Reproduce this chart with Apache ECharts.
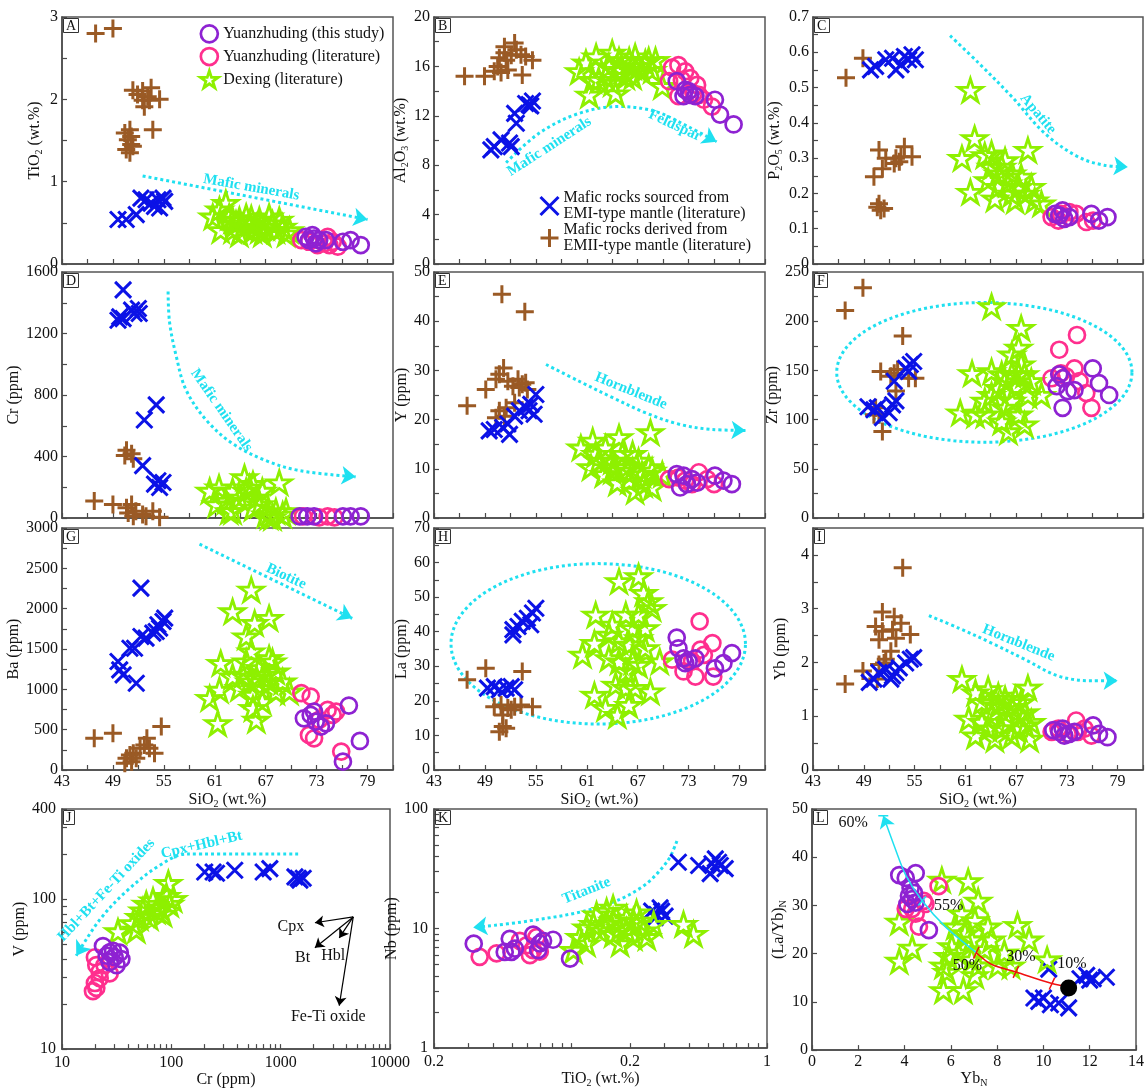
<!DOCTYPE html>
<html><head><meta charset="utf-8">
<script src="https://cdn.jsdelivr.net/npm/echarts@6/dist/echarts.min.js"></script>
<style>html,body{margin:0;padding:0;background:#fff}#c{width:1147px;height:1089px}</style>
</head><body><div id="c"></div><script>
// ---------------- DATA ----------------
// groups: emii = brown +, emi = blue x, dex = Dexing stars, lit = Yuanzhuding literature (pink), this = this study (purple)
const A_emii=[[46.96,2.80],[49.0,2.86],[51.35,2.11],[52.5,2.10],[53.5,2.14],[53.1,2.03],[52.5,1.99],[54.5,2.0],[52.7,1.91],[53.3,1.99],[51.9,2.06],[53.7,1.63],[50.4,1.59],[51.0,1.63],[50.76,1.51],[51.15,1.45],[50.57,1.39],[51.0,1.35],[51.35,1.43],[51.15,1.55]];
const A_emi=[[49.6,0.54],[50.57,0.54],[51.75,0.6],[52.3,0.80],[52.9,0.78],[53.5,0.74],[54.3,0.78],[54.9,0.80],[54.5,0.68],[55.1,0.76],[53.9,0.70]];
const A_dex=[[60.76,0.575],[62.3,0.74],[61.7,0.41],[63.1,0.535],[63.9,0.535],[65.1,0.49],[66.25,0.535],[67.0,0.45],[67.8,0.49],[69.0,0.45],[69.8,0.41],[65.5,0.41],[63.1,0.41],[64.7,0.575],[67.4,0.575],[61.55,0.66],[64.3,0.45],[65.9,0.45],[68.6,0.535],[69.4,0.37],[66.6,0.37],[63.9,0.37],[62.7,0.575],[68.2,0.41],[65.3,0.555],[63.5,0.49],[66.25,0.41]];
const A_lit=[[71.2,0.29],[72.1,0.27],[74.3,0.33],[74.5,0.23],[75.5,0.21],[74.9,0.27],[73.1,0.23],[73.9,0.25]];
const A_this=[[71.7,0.33],[72.5,0.35],[73.3,0.29],[72.9,0.25],[72.1,0.29],[74.1,0.29],[76.1,0.27],[77.0,0.29],[78.2,0.23],[72.7,0.31]];

const B_emii=[[46.6,15.2],[48.95,15.2],[50.1,15.6],[50.5,16.0],[50.7,16.7],[51.3,17.1],[51.3,17.6],[52.5,17.9],[52.1,16.9],[52.7,17.35],[53.25,16.95],[53.8,16.8],[54.6,16.5],[53.4,15.3],[50.9,15.5],[51.7,15.7],[51.5,16.5]];
const B_emi=[[49.7,9.24],[50.1,9.5],[50.9,10.05],[51.9,9.8],[52.1,9.5],[52.5,12.2],[52.7,11.4],[53.8,13.0],[54.2,12.9],[54.6,13.2],[54.4,12.8]];
const B_dex=[[60.1,15.6],[61.3,13.7],[62.1,16.8],[62.4,14.9],[63.6,16.0],[64.4,13.8],[64.0,17.1],[65.2,15.7],[66.0,16.5],[66.4,15.2],[67.1,16.0],[67.9,16.3],[68.7,15.7],[69.9,14.4],[63.2,15.2],[64.8,16.5],[65.6,15.2],[66.7,16.8],[67.5,15.6],[68.3,16.5],[60.9,16.3],[61.7,14.9],[64.0,14.65],[69.1,16.5],[66.4,16.0],[64.6,15.6]];
const B_lit=[[71.05,15.9],[71.8,16.1],[72.6,15.6],[73.2,15.05],[74.0,14.5],[74.2,13.7],[74.8,13.3],[75.75,12.75],[70.7,14.8],[72.2,14.9],[73.6,13.8],[71.8,13.6]];
const B_this=[[71.6,14.8],[72.6,14.1],[73.2,13.7],[72.4,13.6],[73.8,13.6],[76.1,13.3],[76.7,12.1],[78.3,11.3],[73.0,14.0]];

const C_emii=[[46.9,0.528],[48.9,0.583],[50.8,0.323],[50.2,0.247],[51.2,0.27],[51.6,0.30],[52.8,0.30],[53.4,0.304],[53.8,0.332],[54.7,0.304],[52.6,0.285],[53.2,0.29],[50.8,0.171],[51.0,0.152],[51.4,0.157],[50.6,0.161]];
const C_emi=[[49.8,0.55],[50.4,0.56],[51.6,0.579],[52.4,0.583],[52.8,0.55],[53.8,0.588],[54.3,0.579],[54.7,0.593],[55.1,0.579],[53.4,0.565]];
const C_dex=[[61.6,0.493],[62.1,0.356],[60.6,0.30],[68.4,0.323],[61.6,0.204],[63.3,0.308],[64.1,0.275],[64.9,0.256],[65.7,0.294],[66.5,0.256],[67.3,0.218],[68.1,0.199],[69.2,0.18],[70.0,0.171],[64.9,0.218],[64.5,0.185],[66.0,0.228],[66.9,0.18],[63.7,0.237],[65.3,0.275],[67.6,0.247],[66.5,0.199],[64.1,0.313],[68.8,0.218]];
const C_lit=[[71.2,0.133],[72.3,0.142],[73.3,0.147],[74.1,0.142],[75.3,0.119],[76.1,0.123],[72.0,0.123]];
const C_this=[[71.6,0.142],[72.1,0.138],[72.7,0.128],[73.3,0.133],[75.9,0.142],[76.8,0.123],[77.8,0.133],[72.5,0.152]];

const D_emii=[[50.6,440],[51.2,418],[51.4,385],[50.4,407],[46.8,110],[49.0,88],[50.6,66],[51.2,88],[51.7,44],[52.5,22],[52.9,11],[53.7,44],[54.5,5],[51.4,11],[50.8,33]];
const D_emi=[[50.2,1484],[49.8,1308],[49.6,1286],[50.2,1297],[51.2,1352],[52.0,1363],[52.1,1330],[51.5,1330],[52.7,637],[54.1,736],[52.5,341],[53.9,220],[54.5,198],[54.3,242],[54.9,231]];
const D_dex=[[60.4,176],[61.5,198],[62.3,110],[63.1,176],[64.5,264],[65.5,220],[66.6,176],[68.6,231],[63.9,132],[61.2,88],[63.1,44],[65.5,66],[67.0,22],[67.8,5],[69.0,22],[64.7,176],[66.3,88],[68.2,44],[65.9,132],[62.7,44],[65.1,198],[67.4,11],[69.4,44]];
const D_lit=[[71.4,11],[74.3,11],[75.1,4],[73.3,4]];
const D_this=[[71.0,11],[71.9,11],[72.7,11],[76.1,11],[77.0,11],[78.2,11]];

const E_emii=[[51.0,45.5],[53.7,41.9],[46.9,22.8],[49.1,26.1],[50.3,28.2],[51.2,30.5],[50.7,29.2],[51.7,27.8],[52.3,26.8],[52.9,28.2],[53.4,27.2],[53.05,26.5],[54.0,26.1],[53.8,27.5],[50.7,21.8],[51.3,20.7],[50.3,20.4],[52.5,23.4],[51.5,22.4]];
const E_emi=[[49.5,17.7],[50.1,18.0],[51.1,18.4],[51.9,17.0],[51.7,19.1],[52.5,20.7],[53.05,21.8],[53.8,22.4],[54.4,23.1],[55.0,25.1],[54.8,21.1],[54.2,21.8]];
const E_dex=[[60.3,14.3],[61.7,15.7],[64.8,16.4],[68.5,17.4],[62.05,13.0],[61.5,10.3],[63.0,8.9],[64.6,7.2],[66.7,5.5],[68.7,6.2],[64.0,11.6],[65.6,10.3],[66.4,9.6],[67.5,8.9],[68.7,9.6],[69.9,8.9],[67.1,11.6],[65.2,13.0],[63.2,14.3],[66.4,13.0],[64.0,9.6],[68.3,10.3],[66.0,7.6],[64.4,10.3],[62.4,11.6],[67.7,6.9]];
const E_lit=[[70.7,7.9],[71.8,8.2],[74.2,9.3],[75.2,7.9],[76.0,6.9],[73.4,6.9],[72.6,7.6]];
const E_this=[[71.6,8.9],[72.4,8.6],[72.8,6.9],[73.4,7.9],[74.0,7.2],[76.1,8.6],[77.1,7.6],[78.1,6.9],[72.0,6.2]];

const F_emii=[[48.9,234],[46.8,211],[53.6,185],[51.0,149],[52.2,144],[53.0,151],[52.8,129],[54.3,142],[55.1,142],[50.4,112],[50.2,105],[51.2,88],[50.8,105],[52.6,147]];
const F_emi=[[49.5,113],[50.2,110],[50.6,112],[51.2,102],[52.0,107],[52.4,115],[52.8,119],[52.6,139],[53.95,152],[54.5,156],[54.9,159],[54.3,149]];
const F_dex=[[64.1,215],[67.6,193],[61.8,147],[60.4,107],[62.2,105],[63.3,119],[64.1,149],[64.9,132],[65.7,112],[66.1,88],[66.5,166],[67.3,173],[67.6,156],[68.0,146],[66.9,132],[66.5,119],[67.3,105],[68.0,95],[68.8,139],[70.0,125],[65.3,146],[64.1,125],[65.7,139],[65.3,98],[67.3,146],[63.3,105],[68.4,125],[66.5,146]];
const F_lit=[[72.1,171],[74.2,186],[71.2,142],[72.3,147],[73.9,152],[74.5,139],[75.3,127],[75.9,112],[72.9,144]];
const F_this=[[72.1,146],[71.8,134],[73.1,129],[72.5,112],[73.9,130],[76.06,152],[76.8,137],[78.0,125],[72.5,142]];

const G_emii=[[46.8,393],[49.0,455],[54.7,538],[50.6,145],[51.2,103],[51.4,207],[52.2,269],[52.7,310],[53.3,269],[53.9,207],[53.0,393],[51.75,145],[51.0,186],[50.4,83]];
const G_emi=[[52.3,2255],[51.75,1076],[49.6,1345],[49.8,1241],[50.2,1179],[51.0,1510],[51.55,1510],[52.3,1655],[52.9,1635],[53.7,1697],[54.3,1800],[54.9,1841],[54.5,1759],[54.1,1717],[55.1,1883]];
const G_dex=[[65.3,2234],[63.1,1966],[67.4,1883],[65.7,1821],[64.7,1655],[65.3,1469],[61.7,1324],[60.4,890],[61.35,579],[65.9,621],[61.55,993],[63.1,1159],[64.3,1179],[63.9,1014],[65.5,931],[66.6,1014],[67.4,1386],[68.2,1221],[69.0,1097],[67.4,1097],[66.25,1262],[65.1,1097],[65.5,766],[66.6,848],[68.2,972],[69.8,972],[67.8,1345],[64.7,1345],[67.0,1179],[65.9,1138]];
const G_lit=[[71.2,952],[72.3,910],[74.3,745],[75.3,724],[72.1,434],[72.7,393],[75.9,228],[73.3,621],[74.9,683]];
const G_this=[[71.5,641],[72.3,683],[72.7,724],[72.9,600],[73.5,538],[74.1,579],[76.8,799],[78.1,360],[76.1,103]];

const H_emii=[[46.9,26.1],[49.1,29.4],[53.4,28.5],[54.6,18.3],[50.1,18.3],[50.9,18.8],[51.7,17.9],[52.5,18.3],[53.25,18.8],[51.1,15.9],[51.1,12.6],[50.7,11.1],[51.5,12.1],[52.1,17.4]];
const H_emi=[[52.3,40.6],[52.9,41.5],[53.4,43.0],[54.0,43.9],[54.6,45.4],[55.0,46.8],[54.4,42.0],[52.3,39.1],[49.3,23.7],[50.1,24.1],[50.7,23.2],[51.5,23.7],[52.1,24.1],[52.5,23.2]];
const H_dex=[[64.8,54.6],[67.1,56.0],[67.7,51.2],[68.3,48.8],[62.05,44.9],[61.9,36.7],[60.5,33.3],[64.0,42.0],[65.6,44.9],[66.4,41.0],[67.1,38.1],[67.9,35.2],[63.6,32.3],[64.8,31.4],[66.4,31.4],[67.1,30.4],[65.6,28.5],[64.4,24.6],[61.9,21.7],[63.2,17.9],[64.6,15.9],[65.95,18.8],[66.7,23.7],[68.5,22.7],[69.6,31.4],[64.8,37.2],[66.0,36.2],[67.9,41.0],[67.1,44.9],[68.7,46.8],[65.6,23.7],[63.6,39.1]];
const H_lit=[[74.3,43.0],[75.8,36.7],[74.4,34.8],[71.05,31.9],[72.4,28.5],[73.8,27.0],[75.9,27.0],[73.4,31.4],[74.8,33.3]];
const H_this=[[71.6,38.3],[71.8,35.2],[72.4,32.3],[73.0,31.4],[73.8,32.3],[76.1,29.4],[77.1,30.9],[78.1,33.8],[72.6,30.9]];

const I_emii=[[53.6,3.76],[51.2,2.94],[52.6,2.85],[53.4,2.73],[50.4,2.67],[51.2,2.58],[52.4,2.61],[54.5,2.52],[50.8,2.42],[52.8,2.45],[52.2,2.21],[51.6,2.06],[50.8,1.96],[48.9,1.84],[46.8,1.60],[50.6,1.69],[51.4,1.99]];
const I_emi=[[49.65,1.63],[50.2,1.69],[50.8,1.81],[51.6,1.87],[52.2,1.69],[52.8,1.81],[53.2,1.90],[53.95,1.99],[54.5,2.06],[54.9,2.09],[52.4,1.75]];
const I_dex=[[60.6,1.69],[62.2,1.44],[63.7,1.50],[64.9,1.38],[68.4,1.53],[61.4,0.95],[62.95,0.89],[64.1,1.01],[65.7,1.07],[66.5,1.17],[67.3,1.01],[68.1,1.07],[68.8,0.89],[64.5,0.58],[66.5,0.64],[68.6,0.58],[65.3,0.77],[67.3,0.77],[66.1,0.89],[63.7,0.77],[64.9,1.20],[66.9,1.32],[67.6,1.26],[62.95,1.26],[65.7,1.32],[68.1,0.83],[62.2,0.64],[64.1,1.26]];
const I_lit=[[71.2,0.71],[72.0,0.77],[74.1,0.92],[75.1,0.77],[75.9,0.64],[73.1,0.67],[74.3,0.71]];
const I_this=[[71.4,0.74],[72.1,0.71],[72.7,0.64],[73.3,0.67],[73.9,0.71],[76.1,0.83],[76.8,0.67],[77.8,0.61],[72.5,0.77]];

const J_emi=[[202,152],[241,152],[259,149],[380,156],[692,152],[796,160],[1350,141],[1500,134],[1607,138],[1445,138]];
const J_dex=[[93.9,128],[90.2,105],[96.8,93],[78.3,88],[68,98],[55,84],[59,93],[51,76],[44.6,69],[47.9,62.5],[32.5,61],[73,84],[63,76],[84,80],[104,100]];
const J_lit=[[20,41],[20.6,36.3],[22.1,32.8],[27.3,32],[20,27.6],[20.6,25.6],[22.1,29.7],[24.5,36.3],[19.2,24.4]];
const J_this=[[23.7,48.7],[27.3,44.2],[30.3,41],[33.8,44],[27.3,38],[34.9,39.9],[31.5,36.3],[25.6,42],[29.3,45.3]];

const K_emi=[[0.353,35.9],[0.448,33.7],[0.524,34.8],[0.545,38.3],[0.566,35.9],[0.513,28.8],[0.612,31.7],[0.578,33.7],[0.258,14.0],[0.274,13.1],[0.29,14.0],[0.302,12.7],[0.269,12.3],[0.285,14.9]];
const K_dex=[[0.111,8.47],[0.13,10.9],[0.152,14.0],[0.164,11.6],[0.178,7.5],[0.192,12.3],[0.216,13.6],[0.234,9.6],[0.208,8.47],[0.164,9.0],[0.14,9.6],[0.12,7.5],[0.103,6.6],[0.375,10.9],[0.422,9.0],[0.264,10.9],[0.152,10.9],[0.178,10.2],[0.208,11.6],[0.135,13.1],[0.164,14.9],[0.225,11.6],[0.192,9.6],[0.12,10.2],[0.244,8.47]];
const K_lit=[[0.0342,5.8],[0.0417,6.2],[0.0548,7.9],[0.0593,7.24],[0.064,6.6],[0.0667,8.47],[0.0617,6.0],[0.0693,6.4]];
const K_this=[[0.0319,7.47],[0.0459,6.38],[0.0487,8.2],[0.0517,6.8],[0.0641,8.9],[0.0693,7.5],[0.072,7.9],[0.081,8.06],[0.0989,5.6],[0.068,6.6],[0.0497,6.38]];

const L_emi=[[10.23,16.8],[9.59,10.8],[9.8,10.1],[10.0,10.8],[10.3,9.4],[10.66,9.76],[11.09,8.75],[11.58,14.8],[11.87,15.5],[12.15,14.8],[12.72,15.1],[12.0,14.5]];
const L_dex=[[3.77,26.6],[5.61,35.3],[6.75,35.0],[7.18,30.96],[3.77,18.5],[4.33,21.2],[5.83,16.2],[6.54,12.4],[5.68,12.4],[6.04,21.5],[6.61,24.2],[7.04,26.9],[6.9,22.9],[7.46,20.9],[7.75,22.9],[8.03,17.5],[8.88,25.9],[9.38,22.9],[10.16,18.8],[6.9,18.8],[6.32,20.2],[7.18,17.5],[8.6,17.5],[5.9,19.5],[6.47,28.3],[7.6,25.6],[6.18,25.6],[8.31,20.2],[7.04,15.5],[5.68,17.5]];
const L_lit=[[5.47,34.0],[4.05,29.3],[4.48,28.3],[4.83,30.96],[4.62,25.6],[4.9,30.3],[4.33,29.3]];
const L_this=[[3.77,36.3],[4.05,35.7],[4.48,36.7],[4.26,33.6],[4.19,32.0],[4.33,31.3],[4.12,30.3],[4.48,30.6],[5.05,24.9],[4.41,32.6]];
const L_source=[[11.09,12.9]];

// tick label values of the log axes
const J_xLabels=[10,100,1000,10000];
const J_yLabels=[10,100,400];
const K_xLabels=[0.02,0.2,1];
const K_xLabelText=['0.2','0.2','1'];
const K_yLabels=[1,10,100];

// annotation guide paths (cyan dotted trends) in data units
const A_trend=[[52.5,1.07],[79,0.54]];
const B_trend=[[51.5,8.2],[55.4,10.6],[60.1,12.2],[64.8,12.75],[69.1,12.35],[73.0,11.1],[76.3,9.9]];
const C_trend=[[59.2,0.647],[62.6,0.569],[66.5,0.474],[70.4,0.37],[74.3,0.304],[77.4,0.28],[80.2,0.275]];
const D_trend=[[55.5,1473],[55.67,1275],[56.45,1055],[57.6,835],[60.0,637],[63.1,484],[67.0,374],[71.0,308],[77.6,268]];
const E_trend=[[56.2,31.2],[60.1,27.8],[64.0,24.5],[67.9,21.4],[71.8,19.1],[75.7,18.0],[79.7,17.8]];
const G_trend=[[59.2,2800],[77.2,1880]];
const I_trend=[[56.7,2.87],[60.2,2.64],[64.1,2.36],[68.0,2.06],[71.95,1.75],[75.9,1.66],[79.0,1.66]];
const J_trend=[[1445,200],[137,200],[78,168],[38.8,113],[22,72.5],[13.5,42]];
const K_trend=[[0.347,54],[0.308,35.9],[0.225,21.7],[0.135,14.9],[0.0617,11.6],[0.0317,10.2]];
const L_cyan=[[7.1,20.2],[5.76,25.6],[4.76,30.96],[4.05,36.3],[3.55,42.4],[3.08,48.6]];
const L_red=[[11.09,13.1],[10.37,13.8],[8.81,16.2],[7.75,17.8],[7.1,20.2]];
const F_ellipse={cx:63.25,cy:148,rx:17.45,ry:71};
const H_ellipse={cx:62.35,cy:36.5,rx:17.35,ry:23.2};

// ---------------- STYLE ----------------
const FONT='"Liberation Serif","Times New Roman",serif';
const PURPLE='#8e22d2', PINK='#ff2f8e', LIME='#8ef000', BLUE='#0b12e6', BROWN='#9a5a25', CYAN='#1fe0f0', AX='#4a4a4a', TX='#111111';
const STAR='path://M10,0L12.23,6.93L19.51,6.91L13.61,11.17L15.88,18.09L10,13.8L4.12,18.09L6.39,11.17L0.49,6.91L7.77,6.93Z';
const XSYM='path://M0,0L10,10M10,0L0,10';
const PSYM='path://M5,0L5,10M0,5L10,5';
const NONE='rgba(0,0,0,0)';
const N_THIS='Yuanzhuding (this study)', N_LIT='Yuanzhuding (literature)', N_DEX='Dexing (literature)';
const N_EMI='Mafic rocks sourced from EMI-type mantle (literature)', N_EMII='Mafic rocks derived from EMII-type mantle (literature)';
const GROUPS=[
 {name:N_EMII, symbol:PSYM, size:18, style:{color:NONE,borderColor:BROWN,borderWidth:3,opacity:1}},
 {name:N_EMI, symbol:XSYM, size:16, style:{color:NONE,borderColor:BLUE,borderWidth:3,opacity:1}},
 {name:N_DEX, symbol:STAR, size:24, style:{color:NONE,borderColor:LIME,borderWidth:2.8,opacity:1}},
 {name:N_LIT, symbol:'circle', size:16, style:{color:NONE,borderColor:PINK,borderWidth:2.7,opacity:1}},
 {name:N_THIS, symbol:'circle', size:16, style:{color:NONE,borderColor:PURPLE,borderWidth:2.7,opacity:1}}
];
const SETS=[
 [A_emii,A_emi,A_dex,A_lit,A_this],[B_emii,B_emi,B_dex,B_lit,B_this],[C_emii,C_emi,C_dex,C_lit,C_this],
 [D_emii,D_emi,D_dex,D_lit,D_this],[E_emii,E_emi,E_dex,E_lit,E_this],[F_emii,F_emi,F_dex,F_lit,F_this],
 [G_emii,G_emi,G_dex,G_lit,G_this],[H_emii,H_emi,H_dex,H_lit,H_this],[I_emii,I_emi,I_dex,I_lit,I_this],
 [null,J_emi,J_dex,J_lit,J_this],[null,K_emi,K_dex,K_lit,K_this],[null,L_emi,L_dex,L_lit,L_this]
];
const GRIDS=[
 {left:62,top:17,width:331,height:247},{left:434,top:17,width:331,height:247},{left:813,top:17,width:330,height:247},
 {left:62,top:272,width:331,height:246},{left:434,top:272,width:331,height:246},{left:813,top:272,width:330,height:246},
 {left:62,top:528,width:331,height:242},{left:434,top:528,width:331,height:242},{left:813,top:528,width:330,height:242},
 {left:62,top:809,width:328,height:248},{left:434,top:809,width:333,height:248},{left:812,top:809,width:330,height:248}
];
const LETTERS=['A','B','C','D','E','F','G','H','I','J','K','L'];
const rich={s:{fontSize:10,fontFamily:FONT,color:TX,verticalAlign:'bottom',padding:[0,0,-1,0]}};
const nameStyle={fontFamily:FONT,fontSize:16,color:TX,rich:rich};
function num(v){return String(parseFloat(v.toFixed(3)));}
function linAxis(gi,min,max,step,every,showLabel,name,gap){
  return {type:'value',gridIndex:gi,min:min,max:max,interval:step,name:name||'',nameLocation:'middle',nameGap:gap||20,nameTextStyle:nameStyle,
    axisLine:{show:true,lineStyle:{color:AX,width:1.5}},
    axisTick:{show:true,inside:true,length:5,lineStyle:{color:AX,width:1.2}},
    splitLine:{show:false},
    axisLabel:{show:showLabel,fontFamily:FONT,fontSize:16,color:TX,margin:4,
      formatter:function(v){const k=Math.round((v-min)/step);return (k%every===0)?num(v):'';}}};
}
function decades(a,b){const out=[];for(let d=a;d<b;d*=10){for(let m=1;m<10;m++){out.push(parseFloat((m*d).toPrecision(3)));}}out.push(b);return out;}
function logAxis(gi,min,max,labels,ticks,name,gap,fmt){
  return {type:'log',logBase:10,gridIndex:gi,min:min,max:max,name:name,nameLocation:'middle',nameGap:gap,nameTextStyle:nameStyle,
    axisLine:{show:true,lineStyle:{color:AX,width:1.5}},
    axisTick:{show:true,inside:true,length:5,lineStyle:{color:AX,width:1.2},customValues:ticks.filter(t=>t>=min&&t<=max)},
    minorTick:{show:false},splitLine:{show:false},
    axisLabel:{show:true,fontFamily:FONT,fontSize:16,color:TX,margin:6,customValues:labels,formatter:fmt||function(v){return num(v);}}};
}
const SiO2='SiO{s|2} (wt.%)';
const xAxes=[
 linAxis(0,43,82,3,2,false),linAxis(1,43,82,3,2,false),linAxis(2,43,82,3,2,false),
 linAxis(3,43,82,3,2,false),linAxis(4,43,82,3,2,false),linAxis(5,43,82,3,2,false),
 linAxis(6,43,82,3,2,true,SiO2,22),linAxis(7,43,82,3,2,true,SiO2,22),linAxis(8,43,82,3,2,true,SiO2,22),
 logAxis(9,10,10000,J_xLabels,decades(10,10000),'Cr (ppm)',20),
 logAxis(10,0.02,1,K_xLabels,decades(0.01,1),'TiO{s|2} (wt.%)',20,function(v){const i=K_xLabels.findIndex(t=>Math.abs(t-v)<1e-6);return i>=0?K_xLabelText[i]:num(v);}),
 linAxis(11,0,14,2,1,true,'Yb{s|N}',20)
];
const yAxes=[
 linAxis(0,0,3,0.5,2,true,'TiO{s|2} (wt.%)',19),
 linAxis(1,0,20,2,2,true,'Al{s|2}O{s|3} (wt.%)',20),
 linAxis(2,0,0.7,0.05,2,true,'P{s|2}O{s|5} (wt.%)',30),
 linAxis(3,0,1600,200,2,true,'Cr (ppm)',33),
 linAxis(4,0,50,5,2,true,'Y (ppm)',21),
 linAxis(5,0,250,25,2,true,'Zr (ppm)',30),
 linAxis(6,0,3000,250,2,true,'Ba (ppm)',37),
 linAxis(7,0,70,5,2,true,'La (ppm)',21),
 linAxis(8,0,4.5,0.5,2,true,'Yb (ppm)',24),
 logAxis(9,10,400,J_yLabels,decades(10,400).concat([200,300,400]).filter((v,i,a)=>a.indexOf(v)===i),'V (ppm)',30),
 logAxis(10,1,100,K_yLabels,decades(1,100),'Nb (ppm)',22),
 linAxis(11,0,50,10,1,true,'(La/Yb){s|N}',24)
];

const series=[];
SETS.forEach(function(set,gi){
  set.forEach(function(d,k){
    if(!d)return;const g=GROUPS[k];
    series.push({type:'scatter',name:g.name,xAxisIndex:gi,yAxisIndex:gi,data:d,symbol:g.symbol,symbolSize:g.size,symbolKeepAspect:true,itemStyle:g.style,z:3+k,silent:true});
  });
});
function trend(gi,pts,opt){
  opt=opt||{};const col=opt.color||CYAN;const w=opt.width||3;const type=opt.type||'dotted';const z=opt.z||2;
  series.push({type:'line',xAxisIndex:gi,yAxisIndex:gi,data:pts,symbol:'none',smooth:opt.smooth===undefined?0.35:opt.smooth,lineStyle:{color:col,width:w,type:type},silent:true,z:z});
  if(opt.arrow!==false){
    const n=pts.length;
    series.push({type:'lines',coordinateSystem:'cartesian2d',xAxisIndex:gi,yAxisIndex:gi,data:[{coords:[pts[n-2],pts[n-1]]}],symbol:['none','arrow'],symbolSize:opt.head||14,lineStyle:{color:col,width:0.01,opacity:1},silent:true,z:z});
  }
}
function note(gi,x,y,text,rot,opt){
  opt=opt||{};
  series.push({type:'scatter',xAxisIndex:gi,yAxisIndex:gi,data:[[x,y]],symbolSize:1,itemStyle:{color:NONE,opacity:0},silent:true,z:10,
    label:{show:true,position:'inside',formatter:text,rotate:rot,color:opt.color||CYAN,opacity:1,textBorderWidth:0,textBorderColor:'transparent',textShadowBlur:0,
      fontSize:opt.size||15,fontFamily:FONT,fontWeight:opt.bold===false?'normal':'bold'}});
}
function ellipse(e){const p=[];for(let i=0;i<=120;i++){const t=i/120*Math.PI*2;p.push([e.cx+e.rx*Math.cos(t),e.cy+e.ry*Math.sin(t)]);}return p;}

trend(0,A_trend,{smooth:false}); note(0,65.3,0.93,'Mafic minerals',-10);
trend(1,B_trend); note(1,56.6,9.5,'Mafic minerals',33); note(1,71.4,11.2,'Feldspar',-25);
trend(2,C_trend); note(2,69.6,0.425,'Apatite',-50);
trend(3,D_trend); note(3,61.8,700,'Mafic minerals',-55);
trend(4,E_trend); note(4,66.2,25.8,'Hornblende',-22);
trend(5,ellipse(F_ellipse),{smooth:false,arrow:false});
trend(6,G_trend,{smooth:false}); note(6,69.4,2400,'Biotite',-25);
trend(7,ellipse(H_ellipse),{smooth:false,arrow:false});
trend(8,I_trend); note(8,67.3,2.36,'Hornblende',-22);
trend(9,J_trend); note(9,25.5,115,'Hbl+Bt+Fe-Ti oxides',47); note(9,189,230,'Cpx+Hbl+Bt',13);
trend(10,K_trend); note(10,0.12,20.7,'Titanite',22);
// J mineral vectors
const J_vecOrigin=[4610,76.2];
const J_vecEnds=[[2056,69.7],[2056,47.5],[3433,55.2],[3433,19.5]];
series.push({type:'lines',coordinateSystem:'cartesian2d',xAxisIndex:9,yAxisIndex:9,data:J_vecEnds.map(e=>({coords:[J_vecOrigin,e]})),symbol:['none','arrow'],symbolSize:9,lineStyle:{color:'#000',width:1.2,opacity:1},silent:true,z:4});
note(9,1239,65,'Cpx',0,{color:TX,bold:false,size:16}); note(9,1585,40.4,'Bt',0,{color:TX,bold:false,size:16});
note(9,3020,42,'Hbl',0,{color:TX,bold:false,size:16}); note(9,2723,16.4,'Fe-Ti oxide',0,{color:TX,bold:false,size:16});
// L melting curves (drawn above the symbols)
trend(11,L_cyan,{type:'solid',width:1.5,head:12,smooth:0.3,z:9});
trend(11,L_red,{type:'solid',width:1.5,color:'#f01010',arrow:false,smooth:0.3,z:9});
series.push({type:'scatter',xAxisIndex:11,yAxisIndex:11,data:[[10.37,13.8],[8.81,16.2],[7.1,20.2]],symbol:'rect',symbolSize:[1.5,13],symbolRotate:-25,itemStyle:{color:'#f01010',opacity:1},silent:true,z:9});
series.push({type:'scatter',xAxisIndex:11,yAxisIndex:11,data:[[4.76,30.96]],symbol:'rect',symbolSize:[1.5,12],symbolRotate:-40,itemStyle:{color:CYAN,opacity:1},silent:true,z:9});
series.push({type:'scatter',xAxisIndex:11,yAxisIndex:11,data:[[3.08,48.6]],symbol:'rect',symbolSize:[10,1.5],itemStyle:{color:CYAN,opacity:1},silent:true,z:9});
series.push({type:'scatter',name:'source',xAxisIndex:11,yAxisIndex:11,data:L_source,symbol:'circle',symbolSize:17,itemStyle:{color:'#000',opacity:1},silent:true,z:9});
note(11,1.78,47.2,'60%',0,{color:TX,bold:false,size:16}); note(11,5.9,29.9,'55%',0,{color:TX,bold:false,size:16});
note(11,6.72,17.5,'50%',0,{color:TX,bold:false,size:16}); note(11,9.03,19.3,'30%',0,{color:TX,bold:false,size:16});
note(11,11.23,18.0,'10%',0,{color:TX,bold:false,size:16});

const grids=GRIDS.map(g=>Object.assign({show:true,borderColor:'#555',borderWidth:1.5,backgroundColor:'transparent',containLabel:false},g));
const titles=GRIDS.map((g,i)=>({text:LETTERS[i],left:g.left+1,top:g.top+1,padding:[1,3,0,3],borderWidth:1,borderColor:'#333',
  textStyle:{fontFamily:FONT,fontSize:14,fontWeight:'normal',color:TX,lineHeight:14}}));
const legendText={fontFamily:FONT,fontSize:16,color:TX};
const option={
  animation:false,backgroundColor:'#fff',
  title:titles,grid:grids,xAxis:xAxes,yAxis:yAxes,
  legend:[
    {left:194,top:19,orient:'vertical',itemGap:3,itemWidth:18,itemHeight:17,selectedMode:false,textStyle:legendText,
     data:[{name:N_THIS,icon:'circle',itemStyle:GROUPS[4].style},{name:N_LIT,icon:'circle',itemStyle:GROUPS[3].style},{name:N_DEX,icon:STAR,itemStyle:GROUPS[2].style}]},
    {left:534,top:185,orient:'vertical',itemGap:0,itemWidth:18,itemHeight:18,selectedMode:false,textStyle:Object.assign({lineHeight:16},legendText),
     formatter:function(n){return n===N_EMI?'Mafic rocks sourced from\nEMI-type mantle (literature)':'Mafic rocks derived from\nEMII-type mantle (literature)';},
     data:[{name:N_EMI,icon:XSYM,itemStyle:GROUPS[1].style},{name:N_EMII,icon:PSYM,itemStyle:GROUPS[0].style}]}
  ],
  series:series
};
const chart=echarts.init(document.getElementById('c'));
chart.setOption(option);
</script></body></html>
